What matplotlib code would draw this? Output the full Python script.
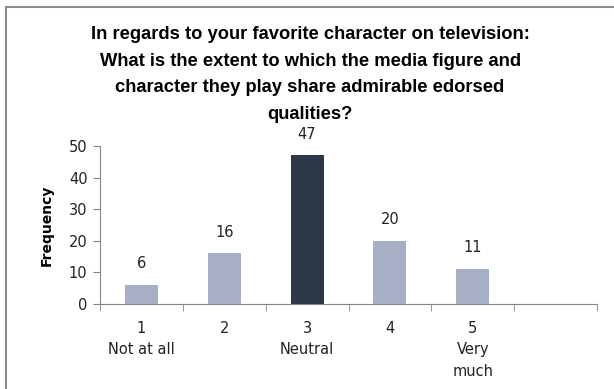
import numpy as np
import matplotlib.pyplot as plt
from matplotlib.patches import Rectangle

# response scale and counts
ratings = ["1\nNot at all", "2", "3\nNeutral", "4", "5\nVery\nmuch"]
counts = [6, 16, 47, 20, 11]
bar_colors = ["#a6afc4", "#a6afc4", "#2c3748", "#a6afc4", "#a6afc4"]
yticks = [0, 10, 20, 30, 40, 50]

title = ("In regards to your favorite character on television:\n"
         "What is the extent to which the media figure and\n"
         "character they play share admirable edorsed\n"
         "qualities?")

fig = plt.figure(figsize=(6.14, 3.89), dpi=100)
fig.patches.append(Rectangle((6 / 614, -0.1), 1.1, 1.1 - 7 / 389, transform=fig.transFigure,
                             fill=False, edgecolor="#8c8c8c", linewidth=1.5))

ax = fig.add_axes([100 / 614, 1 - 304 / 389, 497 / 614, 158 / 389])
x = np.arange(len(ratings))
bars = ax.bar(x, counts, width=0.4, color=bar_colors, zorder=2)
for xi, v in zip(x, counts):
    ax.annotate(str(v), (xi, v), xytext=(0, 10), textcoords="offset points",
                ha="center", va="bottom", fontsize=10.5, color="#222222")

ax.set_xlim(-0.5, 5.5)
ax.set_ylim(0, 50)
ax.set_yticks(yticks)
ax.set_xticks(x)
ax.set_xticklabels(ratings, fontsize=10.5, color="#222222", linespacing=1.55, va="top")
ax.set_xticks(np.arange(-0.5, 6.0, 1), minor=True)
ax.tick_params(axis="x", which="major", length=0, pad=12)
ax.tick_params(axis="x", which="minor", length=5, color="#868686")
ax.tick_params(axis="y", length=5, color="#868686", labelsize=10.5, labelcolor="#222222", pad=4)

for s in ["top", "right"]:
    ax.spines[s].set_visible(False)
for s in ["left", "bottom"]:
    ax.spines[s].set_color("#868686")

ax.set_ylabel("Frequency", fontsize=10, fontweight="bold", labelpad=11)
fig.text(0.505, 1 - 26 / 389, title, ha="center", va="top", fontsize=13.2,
         fontweight="bold", linespacing=1.75, family="Liberation Sans")

fig.savefig("out.png", dpi=100)
